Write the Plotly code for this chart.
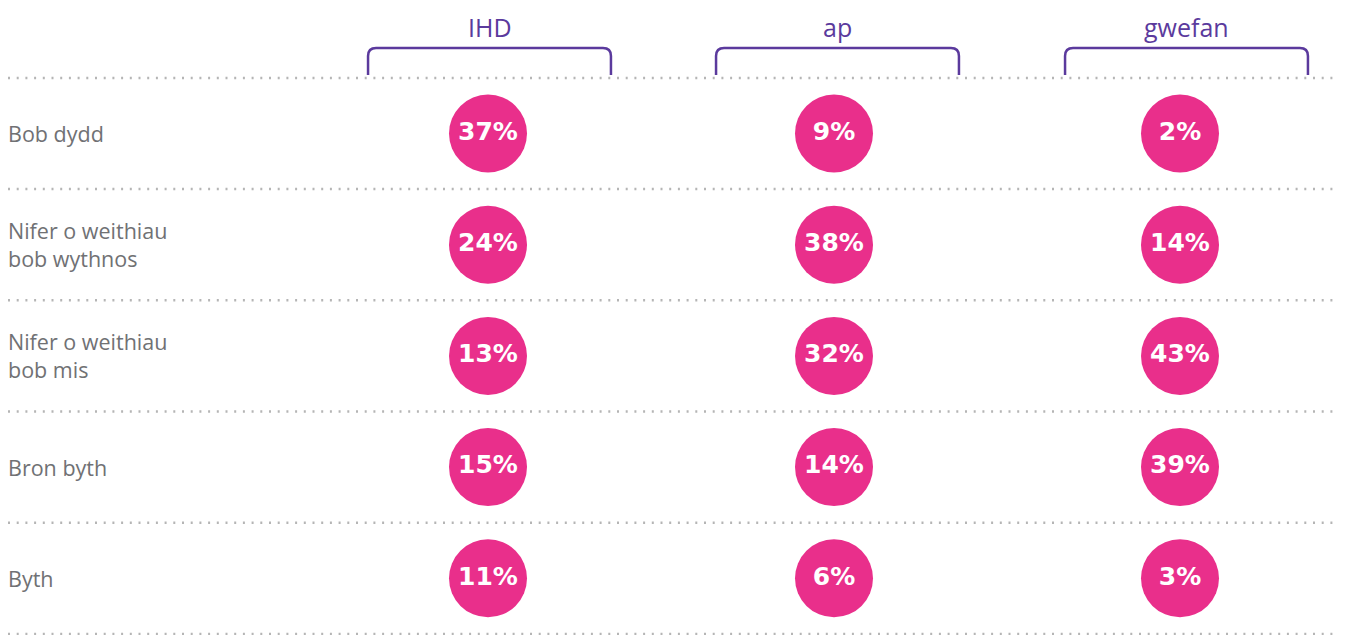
import plotly.graph_objects as go

# data
channels = ["IHD", "ap", "gwefan"]
frequencies = [
    "Bob dydd",
    "Nifer o weithiau<br>bob wythnos",
    "Nifer o weithiau<br>bob mis",
    "Bron byth",
    "Byth",
]
ihd = [37, 24, 13, 15, 11]
app = [9, 38, 32, 14, 6]
website = [2, 14, 43, 39, 3]

PINK = "#e92f8b"
PURPLE = "#5b3a9d"
GREY_TXT = "#707174"
DOT = "#b5b5b5"
FONT = "Open Sans"

W, H = 1346, 635
OFF = 8  # page body margin pushes the figure 8px right/down

# axis mapping: column index -> px, row index -> px (figure coords)
x_px0, x_unit = 488 - OFF, 346
y_px0, y_unit = 133.5 - OFF, 111.2
x_range = [-x_px0 / x_unit, (W - x_px0) / x_unit]
y_top = -y_px0 / y_unit
y_range = [y_top + H / y_unit, y_top]

# headers/brackets sit slightly right of the circle columns (px)
head_shift = [1.5, 3.5, 6.5]


def ypx(p):
    # screen px (reference) -> data y
    return (p - OFF - y_px0) / y_unit


fig = go.Figure()

series = [ihd, app, website]
for ci, vals in enumerate(series):
    fig.add_trace(go.Scatter(
        x=[ci] * len(vals),
        y=list(range(len(vals))),
        mode="markers+text",
        marker=dict(size=78, color=PINK, line=dict(width=0)),
        text=[f"{v}%" for v in vals],
        textposition="middle center",
        textfont=dict(family="DejaVu Sans", size=25, color="white", weight=700),
        hoverinfo="skip",
        showlegend=False,
        cliponaxis=False,
    ))

shapes = []
# dotted separators
for i in range(len(frequencies) + 1):
    shapes.append(dict(
        type="line", xref="paper", yref="y",
        x0=0, x1=(1342 - OFF) / W, y0=i - 0.5, y1=i - 0.5,
        line=dict(color=DOT, width=2.5, dash="2px,6.7px"),
        layer="below",
    ))

# brackets over each column
half = 0.351
rx = 8 / x_unit
ry = 8 / y_unit
yt, yb = ypx(48), ypx(75)
for ci, name in enumerate(channels):
    cx = ci + head_shift[ci] / x_unit
    x0, x1 = cx - half, cx + half
    path = (f"M {x0},{yb} L {x0},{yt + ry} Q {x0},{yt} {x0 + rx},{yt} "
            f"L {x1 - rx},{yt} Q {x1},{yt} {x1},{yt + ry} L {x1},{yb}")
    shapes.append(dict(type="path", xref="x", yref="y", path=path,
                       line=dict(color=PURPLE, width=2.5)))

annotations = []
for ci, name in enumerate(channels):
    annotations.append(dict(
        x=ci + head_shift[ci] / x_unit, y=1, xref="x", yref="paper",
        text=name, showarrow=False,
        xanchor="center", yanchor="top",
        font=dict(family=FONT, size=25, color=PURPLE),
    ))

for ri, lab in enumerate(frequencies):
    annotations.append(dict(
        x=-2 / W, y=ri, xref="paper", yref="y", text=lab, showarrow=False,
        xanchor="left", yanchor="middle", align="left",
        font=dict(family=FONT, size=21.5, color=GREY_TXT),
    ))

fig.update_layout(
    width=W, height=H,
    margin=dict(l=0, r=0, t=0, b=0),
    paper_bgcolor="white", plot_bgcolor="white",
    xaxis=dict(range=x_range, visible=False, fixedrange=True),
    yaxis=dict(range=y_range, visible=False, fixedrange=True),
    shapes=shapes,
    annotations=annotations,
)

fig.write_html("out.html")
